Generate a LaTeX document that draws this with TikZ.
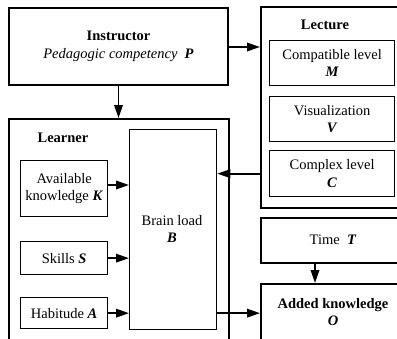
\documentclass[tikz,border=0pt]{standalone}
\usepackage{fontspec}
\setmainfont{Liberation Serif}
\usetikzlibrary{arrows.meta,calc}
\begin{document}
\begin{tikzpicture}[x=1pt,y=-1pt,
  every node/.style={font=\fontsize{14.5}{17.5}\selectfont},
  outer/.style={draw,line width=2pt,anchor=north west,inner sep=0pt},
  inner/.style={draw,line width=1.3pt,anchor=north west,inner sep=0pt,align=center},
  arr/.style={line width=1.8pt,-{Triangle[length=13pt,width=8.5pt]}},
  title/.style={font=\fontsize{14.5}{17.5}\selectfont\bfseries}]
\useasboundingbox (0,0) rectangle (397,338);
\clip (0,0) rectangle (397,338);

% instructor
\node[outer,minimum width=219pt,minimum height=77pt,align=center] (instr) at (8,7)
  {\textbf{Instructor}\\ \textit{Pedagogic competency}\ \ \textbf{\textit{P}}};

% lecture block
\node[outer,minimum width=150pt,minimum height=201pt] (lecture) at (260,6) {};
\node[title] (lectitle) at (325,25) {Lecture};
\node[inner,minimum width=125pt,minimum height=45pt] (compat) at (269,40)
  {Compatible level\\ \textbf{\textit{M}}};
\node[inner,minimum width=125pt,minimum height=45pt] (visual) at (269,96)
  {Visualization\\ \textbf{\textit{V}}};
\node[inner,minimum width=125pt,minimum height=46pt] (complex) at (269,150)
  {Complex level\\ \textbf{\textit{C}}};

% learner block
\node[outer,minimum width=220pt,minimum height=240pt] (learner) at (8,118) {};
\node[title] (learntitle) at (63,138) {Learner};
\node[inner,minimum width=87pt,minimum height=56pt] (know) at (20,160)
  {Available\\ knowledge \textbf{\textit{K}}};
\node[inner,minimum width=87pt,minimum height=33pt] (skills) at (20,241)
  {Skills \textbf{\textit{S}}};
\node[inner,minimum width=87pt,minimum height=31pt] (habit) at (20,297)
  {Habitude \textbf{\textit{A}}};
\node[inner,minimum width=87pt,minimum height=200pt] (brain) at (129,129) {};
\node[align=center] (braintext) at (172,229) {Brain load\\ \textbf{\textit{B}}};

% time and outcome
\node[outer,minimum width=150pt,minimum height=45pt] (time) at (260,217) {};
\node (timetext) at (333,240) {Time\ \ \textbf{\textit{T}}};
\node[outer,minimum width=150pt,minimum height=70pt] (added) at (260,283) {};
\node[align=center] (addedtext) at (333,312) {\textbf{Added knowledge}\\ \textbf{\textit{O}}};

% connectors
\draw[arr] (instr.south) -- (instr.south |- learner.north);
\draw[arr] (instr.east |- 0,47) -- (lecture.west |- 0,47);
\draw[arr] (lecture.west |- complex.west) -- (brain.east |- complex.west);
\draw[arr] (know.east |- 0,185) -- (brain.west |- 0,185);
\draw[arr] (skills.east) -- (brain.west |- skills.east);
\draw[arr] (habit.east) -- (brain.west |- habit.east);
\draw[arr] (brain.east |- habit.east) -- (added.west |- habit.east);
\coordinate (tdrop) at ([xshift=55pt]time.south west);
\draw[arr] (tdrop) -- (tdrop |- added.north);
\end{tikzpicture}
\end{document}
